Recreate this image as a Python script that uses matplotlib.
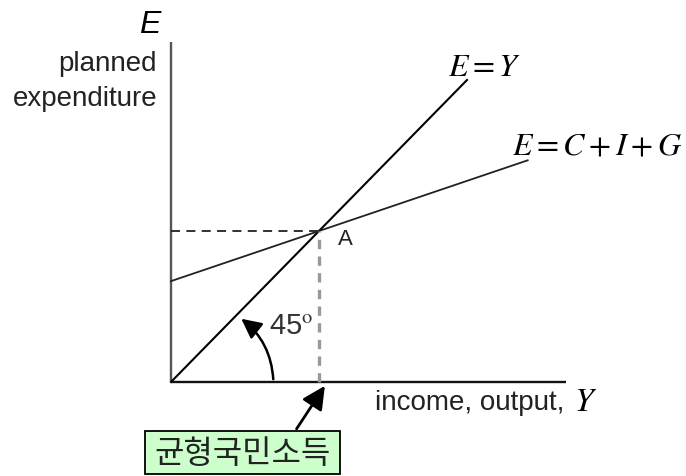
import matplotlib.pyplot as plt
from matplotlib.patches import FancyArrowPatch, Rectangle

plt.rcParams['mathtext.fontset'] = 'stix'

# model values (income units)
ey_x = [0, 10.0]
ey_y = [0, 10.0]
cig_x = [0, 12.05]
cig_y = [3.34, 7.34]
eq_point = (5.0, 5.0)
y_axis_top = 11.25
x_axis_end = 13.35

box_label = '균형국민소득'
y_label = ['planned', 'expenditure']
x_label = 'income, output,'

fig = plt.figure(figsize=(6.86, 4.77), dpi=100)
ax = fig.add_axes([0, 0, 1, 1])
ax.set_xlim(-5.777, 17.399)
ax.set_ylim(-3.113, 12.682)
ax.axis('off')

# axes
ax.plot([0, 0], [0, y_axis_top], color='#555555', lw=1.7, solid_capstyle='butt')
ax.plot([0, x_axis_end], [0, 0], color='#111111', lw=1.7, solid_capstyle='butt')

# lines
ax.plot(ey_x, ey_y, color='black', lw=1.5)
ax.plot(cig_x, cig_y, color='#222222', lw=1.3)

# dashed guides
ax.plot([0, eq_point[0]], [eq_point[1], eq_point[1]], color='#222222', lw=1.3,
        dashes=(5, 3.5))
ax.plot([eq_point[0], eq_point[0]], [0, eq_point[1]], color='#999999', lw=2.4,
        dashes=(2.8, 2.2))

ax.text(-0.71, 11.85, 'E', fontsize=23, fontstyle='italic',
        family='Liberation Sans', ha='center', va='center')
ax.text(-0.47, 10.55, y_label[0], fontsize=20, family='Liberation Sans',
        ha='right', va='center', color='#222222')
ax.text(-0.47, 9.4, y_label[1], fontsize=20, family='Liberation Sans',
        ha='right', va='center', color='#222222')

ax.text(6.88, -0.66, x_label, fontsize=20, family='Liberation Sans',
        ha='left', va='center', color='#222222')
ax.text(13.6, -0.62, '$\\mathbf{\\mathit{Y}}$', fontsize=24,
        ha='left', va='center')

ax.text(10.6, 10.45, '$\\mathit{E}=\\mathit{Y}$', fontsize=23,
        ha='center', va='center')
ax.text(14.4, 7.85, '$\\mathit{E}=\\mathit{C}+\\mathit{I}+\\mathit{G}$',
        fontsize=23, ha='center', va='center')

ax.text(5.9, 4.75, 'A', fontsize=16, family='Liberation Sans',
        ha='center', va='center', color='#222222')
ax.text(4.05, 1.9, '45$^{\\rm o}$', fontsize=21, family='Liberation Sans',
        ha='center', va='center', color='#333333')
plt.rcParams['mathtext.rm'] = 'Liberation Sans'

# 45 degree arc arrow
arc = FancyArrowPatch((3.46, 0.0), (2.3, 2.15), connectionstyle='arc3,rad=0.24',
                      arrowstyle='-|>,head_length=12,head_width=6',
                      color='black', lw=1.8, mutation_scale=1)
ax.add_patch(arc)

# label box and arrow
ax.add_patch(Rectangle((-0.88, -3.05), 6.59, 1.42, facecolor='#ccffcc',
                       edgecolor='black', lw=1.3))
ax.text(2.42, -2.36, box_label, fontsize=23, family='Noto Sans CJK KR',
        ha='center', va='center', color='#222222')
arr = FancyArrowPatch((4.19, -1.63), (5.25, -0.05),
                      arrowstyle='-|>,head_length=14,head_width=7',
                      color='black', lw=2.0, mutation_scale=1)
ax.add_patch(arr)

fig.savefig('out.png', dpi=100)
